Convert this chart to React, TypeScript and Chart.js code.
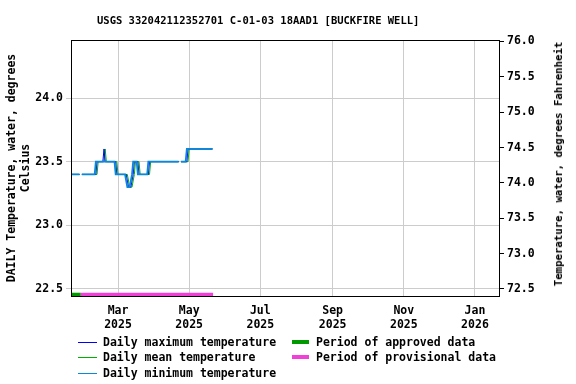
import React, { useEffect, useRef } from "react";
import { Chart, registerables } from "chart.js";

Chart.register(...registerables);

// ---- data (x = day of year 2025, day 0 = Jan 1 2025) ----
const maxDays = [19, 26, 27, 28, 40, 41, 46, 47, 48, 57, 58, 66, 68, 70, 72, 73, 76, 77, 85, 86, 111, 112, 113, 118, 119, 140];
const maxVals = [23.4, 23.4, null, 23.4, 23.4, 23.5, 23.5, 23.6, 23.5, 23.5, 23.4, 23.4, 23.3, 23.3, 23.4, 23.5, 23.5, 23.4, 23.4, 23.5, 23.5, null, 23.5, 23.5, 23.6, 23.6];

const meanDays = [19, 26, 27, 28, 41, 42, 47, 48, 49, 58, 59, 67, 69, 71, 73, 74, 77, 78, 86, 87, 111, 112, 113, 119, 120, 140];
const meanVals = [23.4, 23.4, null, 23.4, 23.4, 23.5, 23.5, 23.6, 23.5, 23.5, 23.4, 23.4, 23.3, 23.3, 23.4, 23.5, 23.5, 23.4, 23.4, 23.5, 23.5, null, 23.5, 23.5, 23.6, 23.6];

const minDays = [19, 26, 27, 28, 39, 40, 56, 57, 65, 67, 69, 71, 72, 75, 76, 84, 85, 111, 112, 113, 117, 118, 140];
const minVals = [23.4, 23.4, null, 23.4, 23.4, 23.5, 23.5, 23.4, 23.4, 23.3, 23.3, 23.4, 23.5, 23.5, 23.4, 23.4, 23.5, 23.5, null, 23.5, 23.5, 23.6, 23.6];

const approvedPeriod = [19, 27];
const provisionalPeriod = [27, 140.5];
const periodLevel = 22.457;

const monthTickDays = [59, 120, 181, 243, 304, 365];
const monthTickLabels = [["Mar", "2025"], ["May", "2025"], ["Jul", "2025"], ["Sep", "2025"], ["Nov", "2025"], ["Jan", "2026"]];
const celsiusTicks = [22.5, 23.0, 23.5, 24.0];
const fahrenheitTicks = [72.5, 73.0, 73.5, 74.0, 74.5, 75.0, 75.5, 76.0];

const xMin = 18.7;
const xMax = 385.6;
const cMin = 22.445;
const cMax = 24.456;

const titleText = "USGS 332042112352701 C-01-03 18AAD1 [BUCKFIRE WELL]";
const leftTitle = ["DAILY Temperature, water, degrees", "Celsius"];
const rightTitle = "Temperature, water, degrees Fahrenheit";

const MONO = '"DejaVu Sans Mono", monospace';
const COLOR_MAX = "#0000ff";
const COLOR_MEAN = "#00b000";
const COLOR_MIN = "#0a88dc";
const COLOR_APPROVED = "#009900";
const COLOR_PROV = "#f040d8";

const toPoints = (days: number[], vals: (number | null)[]) =>
  days.map((d, i) => ({ x: d, y: vals[i] }));

const framePlugin = {
  id: "frame",
  afterDraw(chart: any) {
    const { ctx, chartArea } = chart;
    ctx.save();
    ctx.strokeStyle = "#000";
    ctx.lineWidth = 1;
    ctx.strokeRect(
      Math.round(chartArea.left) + 0.5,
      Math.round(chartArea.top) + 0.5,
      Math.round(chartArea.right - chartArea.left),
      Math.round(chartArea.bottom - chartArea.top)
    );
    ctx.restore();
  },
};

export default function App() {
  const ref = useRef<HTMLCanvasElement | null>(null);

  useEffect(() => {
    if (!ref.current) return;
    const font = { family: MONO, size: 11.5, weight: "bold" as const };
    const chart = new Chart(ref.current, {
      type: "line",
      data: {
        datasets: [
          {
            label: "Daily minimum temperature",
            data: toPoints(minDays, minVals),
            borderColor: COLOR_MIN,
            borderWidth: 1.8,
            pointRadius: 0,
            spanGaps: false,
            order: 1,
          },
          {
            label: "Daily maximum temperature",
            data: toPoints(maxDays, maxVals),
            borderColor: COLOR_MAX,
            borderWidth: 1,
            pointRadius: 0,
            spanGaps: false,
            order: 2,
          },
          {
            label: "Daily mean temperature",
            data: toPoints(meanDays, meanVals),
            borderColor: COLOR_MEAN,
            borderWidth: 1,
            pointRadius: 0,
            spanGaps: false,
            order: 3,
          },
          {
            label: "Period of approved data",
            data: approvedPeriod.map((d) => ({ x: d, y: periodLevel })),
            borderColor: COLOR_APPROVED,
            borderWidth: 3.5,
            pointRadius: 0,
            order: 4,
          },
          {
            label: "Period of provisional data",
            data: provisionalPeriod.map((d) => ({ x: d, y: periodLevel })),
            borderColor: COLOR_PROV,
            borderWidth: 3.5,
            pointRadius: 0,
            order: 5,
          },
        ],
      },
      options: {
        animation: false,
        responsive: false,
        maintainAspectRatio: false,
        layout: { padding: { top: 40, left: 0, right: 0, bottom: 0 } },
        plugins: {
          legend: { display: false },
          title: { display: false },
          tooltip: { enabled: false },
        },
        scales: {
          x: {
            type: "linear",
            min: xMin,
            max: xMax,
            grid: { color: "#cccccc", drawTicks: false },
            border: { color: "#000" },
            ticks: {
              font,
              color: "#000",
              padding: 8,
              maxRotation: 0,
              autoSkip: false,
              callback: (v: any) => {
                const i = monthTickDays.indexOf(Number(v));
                return i >= 0 ? monthTickLabels[i] : "";
              },
            },
            afterBuildTicks: (s: any) => {
              s.ticks = monthTickDays.map((v) => ({ value: v }));
            },
            afterFit: (s: any) => {
              s.height = 88;
            },
          },
          y: {
            type: "linear",
            position: "left",
            min: cMin,
            max: cMax,
            grid: { color: "#cccccc", tickLength: 5 },
            border: { color: "#000" },
            ticks: {
              font,
              color: "#000",
              padding: 3,
              autoSkip: false,
              callback: (v: any) => Number(v).toFixed(1),
            },
            afterBuildTicks: (s: any) => {
              s.ticks = celsiusTicks.map((v) => ({ value: v }));
            },
            title: {
              display: true,
              text: leftTitle,
              font,
              color: "#000",
              padding: { top: 5, bottom: 0 },
            },
            afterFit: (s: any) => {
              s.width = 71;
            },
          },
          y2: {
            type: "linear",
            position: "right",
            min: cMin * 1.8 + 32,
            max: cMax * 1.8 + 32,
            grid: { drawOnChartArea: false, tickLength: 5, tickColor: "#000" },
            border: { color: "#000" },
            ticks: {
              font,
              color: "#000",
              padding: 3,
              autoSkip: false,
              callback: (v: any) => Number(v).toFixed(1),
            },
            afterBuildTicks: (s: any) => {
              s.ticks = fahrenheitTicks.map((v) => ({ value: v }));
            },
            afterFit: (s: any) => {
              s.width = 77;
            },
          },
        },
      },
      plugins: [framePlugin],
    } as any);
    return () => chart.destroy();
  }, []);

  const legendText: React.CSSProperties = {
    position: "absolute",
    font: `bold 11.5px ${MONO}`,
    color: "#000",
    whiteSpace: "nowrap",
    lineHeight: "14px",
  };

  const leftItems = [
    { label: "Daily maximum temperature", color: COLOR_MAX, y: 342 },
    { label: "Daily mean temperature", color: COLOR_MEAN, y: 357 },
    { label: "Daily minimum temperature", color: COLOR_MIN, y: 373 },
  ];
  const rightItems = [
    { label: "Period of approved data", color: COLOR_APPROVED, y: 342 },
    { label: "Period of provisional data", color: COLOR_PROV, y: 357 },
  ];

  return (
    <div style={{ position: "fixed", left: 0, top: 0, width: 576, height: 384, background: "#fff" }}>
      <canvas ref={ref} width={576} height={384} style={{ position: "absolute", left: 0, top: 0, width: 576, height: 384 }} />
      <div
        style={{
          position: "absolute",
          left: 97,
          top: 13,
          font: `bold 10.5px ${MONO}`,
          lineHeight: "14px",
          whiteSpace: "nowrap",
          color: "#000",
        }}
      >
        {titleText}
      </div>
      <div
        style={{
          position: "absolute",
          left: 559,
          top: 164,
          transform: "translate(-50%, -50%) rotate(-90deg)",
          font: `bold 10.7px ${MONO}`,
          lineHeight: "14px",
          whiteSpace: "nowrap",
          color: "#000",
        }}
      >
        {rightTitle}
      </div>
      {leftItems.map((it) => (
        <React.Fragment key={it.label}>
          <div style={{ position: "absolute", left: 78, top: it.y, width: 19, height: 1, background: it.color }} />
          <div style={{ ...legendText, left: 103, top: it.y - 7 }}>{it.label}</div>
        </React.Fragment>
      ))}
      {rightItems.map((it) => (
        <React.Fragment key={it.label}>
          <div style={{ position: "absolute", left: 292, top: it.y - 2, width: 17, height: 4, background: it.color }} />
          <div style={{ ...legendText, left: 316, top: it.y - 7 }}>{it.label}</div>
        </React.Fragment>
      ))}
    </div>
  );
}
